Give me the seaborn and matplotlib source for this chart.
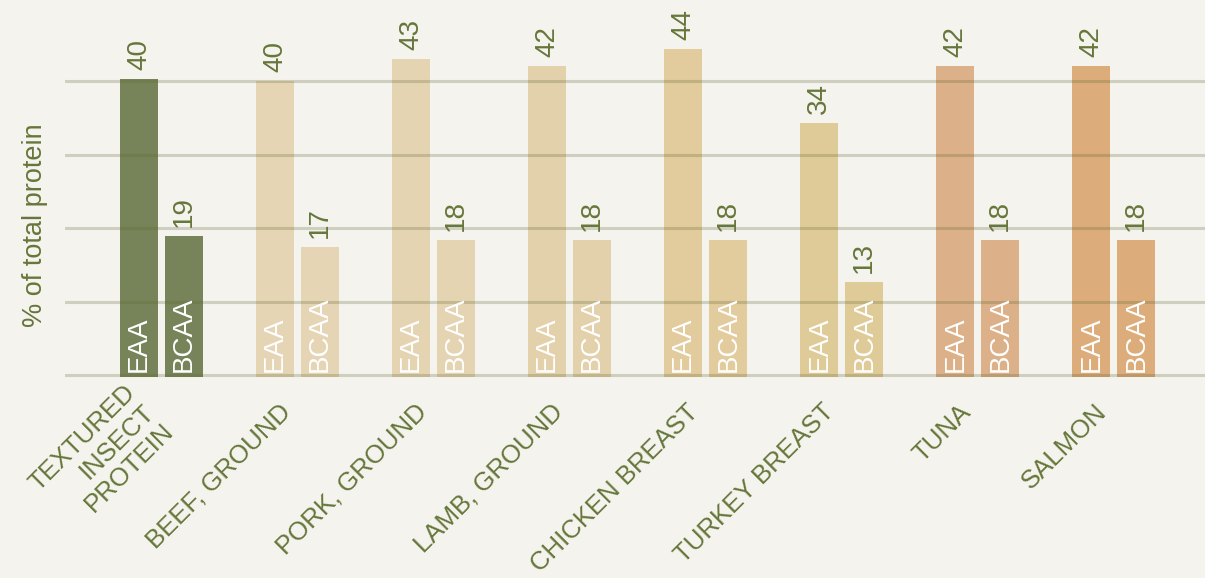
import matplotlib
matplotlib.use("Agg")
import matplotlib.pyplot as plt
import matplotlib.transforms as mtransforms
import seaborn as sns
import pandas as pd

foods = ["TEXTURED\nINSECT\nPROTEIN", "BEEF, GROUND", "PORK, GROUND", "LAMB, GROUND",
         "CHICKEN BREAST", "TURKEY BREAST", "TUNA", "SALMON"]
eaa = [40.3, 40.0, 43.0, 42.0, 44.4, 34.3, 42.0, 42.0]
bcaa = [18.9, 17.4, 18.4, 18.4, 18.4, 12.6, 18.4, 18.4]
types = ["EAA", "BCAA"]
food_colors = ["#778459", "#e5d5b4", "#e5d4b2", "#e3d1ac", "#e2cb9c", "#dfcb98", "#dcb088", "#dcad7b"]

BG = "#f4f3ee"
OLIVE = "#66773a"
FS = 20

df = pd.DataFrame({
    "food": foods * 2,
    "type": ["EAA"] * len(foods) + ["BCAA"] * len(foods),
    "value": eaa + bcaa,
})

sns.set_style("white")
plt.rcParams["font.family"] = ["Liberation Sans", "DejaVu Sans"]

ymin, ymax = -0.35, 51.0
pxu = 7.35
bottom_px = 375 + (-ymin) * pxu
height_px = (ymax - ymin) * pxu

fig = plt.figure(figsize=(12.05, 5.78), dpi=100, facecolor=BG)
ax = fig.add_axes([65 / 1205, 1 - bottom_px / 578, 1 - 65 / 1205, height_px / 578])
ax.set_facecolor(BG)

sns.barplot(data=df, x="food", y="value", hue="type", order=foods, hue_order=types,
            width=0.662, gap=0.156, legend=False, ax=ax, saturation=1, errorbar=None)

for cont, t in zip(ax.containers, types):
    for i, p in enumerate(cont.patches):
        p.set_facecolor(food_colors[i])
        p.set_edgecolor("none")
        p.set_y(ymin * 0.8)
        p.set_height(p.get_height() - ymin * 0.8)
        cx = p.get_x() + p.get_width() / 2
        ax.annotate(t, (cx, 0), xytext=(0, 2), textcoords="offset points",
                    rotation=90, ha="center", va="bottom", color="white", fontsize=FS, zorder=4)
    ax.bar_label(cont, labels=[f"{v:.0f}" for v in (eaa if t == "EAA" else bcaa)],
                 padding=6.5, rotation=90, color=OLIVE, fontsize=FS)

ax.set_xlim(-0.71, 7.67)
ax.set_ylim(ymin, ymax)
ax.set_yticks([0, 10, 20, 30, 40])
ax.set_yticklabels([])
ax.tick_params(axis="y", length=0)
ax.tick_params(axis="x", length=0, pad=22, labelcolor=OLIVE, labelsize=18.5)
shift = mtransforms.ScaledTranslation(-11 / 100, 0, fig.dpi_scale_trans)
for lab in ax.get_xticklabels():
    lab.set_rotation(45)
    lab.set_ha("right")
    lab.set_va("center")
    lab.set_rotation_mode("anchor")
    lab.set_linespacing(1.15)
    lab.set_transform(lab.get_transform() + shift)

ax.set_axisbelow(False)
ax.grid(axis="y", color="#5f6530", alpha=0.25, linewidth=2.2)
ax.grid(axis="x", visible=False)
for s in ax.spines.values():
    s.set_visible(False)

ax.set_xlabel("")
ax.set_ylabel("% of total protein", color=OLIVE, fontsize=19.5)
ax.yaxis.set_label_coords(-0.0145, (375 - 225 + (-ymin) * pxu) / height_px)

fig.savefig("out.png", dpi=100, facecolor=BG)
